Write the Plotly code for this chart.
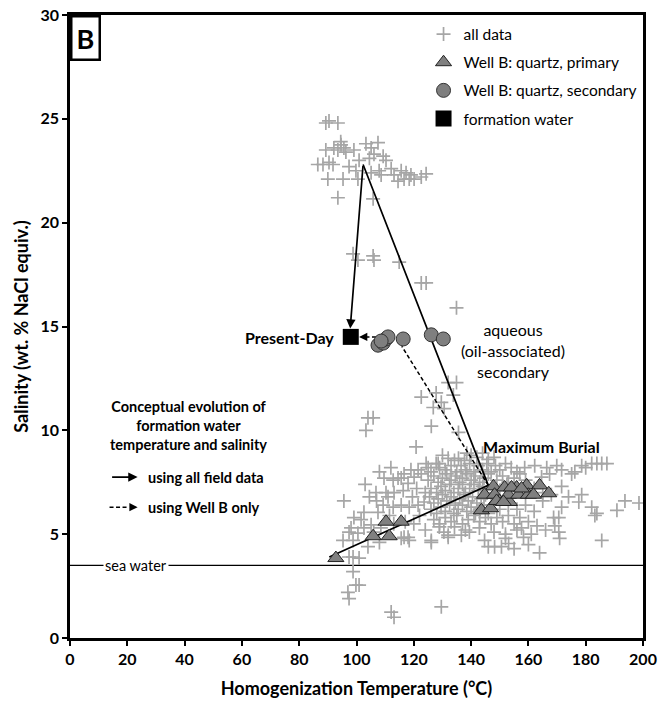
import plotly.graph_objects as go

# ---------------- data ----------------
# all field data (Th °C, salinity wt.% NaCl eq.)
all_T = [
    # high-salinity cluster
    89.3, 90.4, 93.5, 89.3, 92.1, 93.5, 94.6, 95.6, 96.3, 99.1, 103.3, 105.1, 107.5, 106.1, 109.3, 110.3,
    86.5, 88.3, 90.4, 91.8, 97.4, 99.8, 100.9, 90.0, 95.3, 100.5, 105.1, 107.9, 108.6, 112.1, 113.1, 115.6,
    117.3, 116.6, 118.4, 120.1, 122.6, 124.3, 93.5, 105.8, 94.5, 104.5, 114.5, 119.0,
    # mid scattered
    98.8, 100.5, 105.8, 106.1, 114.9, 122.6, 124.3, 134.9, 132.0, 134.9, 122.6, 127.8, 129.6, 126.8, 130.6,
    133.8, 104.0, 105.8, 103.3, 126.1, 135.6, 120.8,
    # low salinity
    97.4, 98.8, 100.9, 98.8, 99.8, 100.9, 97.0, 97.4, 112.1, 113.1, 129.6,
    # left part of main cluster
    95.6, 99.1, 101.6, 95.3, 97.4, 100.5, 98.1, 102.6, 98.8, 102.6, 105.1, 107.5, 109.3, 112.8, 115.6, 118.4,
    121.5, 123.6, 109.6, 112.8, 115.6, 106.8, 110.3, 113.1, 116.3, 118.0, 120.1, 122.6, 125.0, 114.5, 116.6,
    119.0, 121.5, 116.6, 118.4, 118.0, 115.6, 104.5, 107.0, 111.0, 111.5, 106.0, 108.5, 113.0, 117.0, 120.0,
    122.0, 124.0, 104.0, 108.0, 121.0, 124.0, 119.5, 108.0, 112.0, 103.0,
    # dense core
    128.5, 132.0, 134.2, 135.6, 137.7, 140.0, 142.0, 144.0, 138.5, 130.0, 146.0, 148.0, 127.8, 124.3,
    126.0, 129.0, 131.0, 133.0, 135.0, 136.5, 138.0, 139.5, 141.0, 142.5, 144.0, 145.5, 147.0, 148.5, 150.0,
    152.0, 154.0, 156.0,
    125.0, 127.0, 128.5, 130.0, 131.5, 133.0, 134.5, 136.0, 137.0, 138.5, 140.0, 141.5, 143.0, 144.5, 146.0,
    149.0, 151.0, 153.0, 155.0, 157.0, 159.0,
    126.0, 128.0, 129.5, 131.0, 132.5, 134.0, 135.5, 137.0, 138.0, 139.5, 141.0, 142.5, 144.0, 145.5, 150.0,
    152.5, 158.0, 162.0, 165.0,
    125.5, 127.0, 128.5, 130.0, 131.5, 133.0, 134.5, 136.0, 137.5, 139.0, 140.5, 142.0, 143.5, 145.0, 147.0,
    150.0, 153.0, 156.0, 159.0, 162.0,
    126.0, 128.0, 129.5, 131.0, 132.5, 134.0, 135.5, 137.0, 138.5, 140.0, 141.5, 143.0, 144.5, 146.0,
    127.0, 129.0, 131.0, 133.0, 135.0, 137.0, 139.0, 141.0, 143.0, 145.0, 147.0, 149.0, 151.0, 153.0, 155.0,
    157.0, 160.0, 163.0,
    126.1, 128.9, 132.0, 134.2, 136.6, 139.4, 142.9, 144.7, 146.0, 148.2, 150.6, 153.1, 130.5, 138.0, 148.0,
    152.0, 156.0, 126.1, 132.0,
    # right side
    158.7, 162.2, 166.4, 169.9, 171.6, 167.4, 164.6, 178.6, 180.0, 182.1, 183.9, 185.6, 187.4, 176.2, 175.1,
    193.7, 198.6, 190.9, 182.1, 183.2, 183.9, 185.6, 178.6, 177.6, 171.6, 171.6, 170.6, 169.2, 170.6, 170.9,
    168.8, 163.9, 158.3, 157.6, 160.0, 155.0, 165.0, 168.0, 174.0, 166.0, 161.0, 152.0,
]
all_S = [
    24.8, 24.9, 24.8, 23.5, 23.6, 23.5, 23.75, 23.6, 23.4, 23.5, 23.8, 23.6, 23.85, 23.3, 23.2, 23.0,
    22.8, 22.8, 22.9, 22.8, 22.7, 22.5, 23.0, 22.1, 22.1, 22.1, 22.4, 22.5, 22.3, 22.6, 22.3, 22.5,
    22.4, 22.1, 22.1, 22.1, 22.2, 22.35, 21.2, 21.15, 23.9, 23.1, 22.0, 22.3,
    18.5, 18.2, 18.4, 18.2, 18.1, 17.1, 17.1, 15.9, 12.3, 12.3, 11.6, 11.8, 11.35, 11.1, 11.05,
    11.7, 10.6, 10.6, 10.0, 10.2, 9.9, 9.2,
    3.9, 3.9, 3.85, 3.2, 2.55, 2.55, 2.2, 1.9, 1.25, 1.0, 1.5,
    6.6, 5.8, 5.7, 4.7, 5.1, 5.05, 5.3, 5.3, 4.7, 6.05, 5.45, 6.05, 6.4, 6.3, 6.4, 6.3,
    6.4, 6.55, 7.7, 7.6, 7.7, 7.0, 7.0, 7.0, 7.1, 7.45, 7.75, 7.9, 8.2, 7.7, 7.9,
    8.1, 8.1, 4.85, 4.7, 4.85, 4.8, 6.8, 6.6, 6.8, 5.9, 5.1, 5.3, 5.5, 5.6, 5.5,
    5.9, 5.2, 4.4, 4.6, 7.2, 7.0, 6.8, 8.0, 8.2, 7.4,
    8.4, 8.65, 8.55, 8.65, 8.55, 8.8, 8.7, 8.9, 8.9, 8.8, 8.6, 8.7, 8.4, 8.4,
    8.0, 8.2, 8.1, 8.3, 8.0, 8.3, 8.1, 8.4, 8.0, 8.3, 8.1, 8.4, 8.0, 8.3, 8.1,
    8.4, 8.2, 8.0,
    7.6, 7.8, 7.5, 7.7, 7.9, 7.6, 7.8, 7.5, 7.7, 7.9, 7.6, 7.8, 7.5, 7.7, 7.9,
    7.6, 7.8, 7.5, 7.7, 7.9, 7.6,
    7.2, 7.0, 7.3, 7.1, 7.4, 7.0, 7.2, 7.4, 7.0, 7.2, 7.4, 7.1, 7.3, 7.0, 7.1,
    7.4, 7.1, 7.2, 7.0,
    6.8, 6.5, 6.7, 6.9, 6.6, 6.8, 6.5, 6.7, 6.9, 6.6, 6.8, 6.5, 6.7, 6.9, 6.4,
    6.2, 6.4, 6.2, 6.4, 6.1,
    6.2, 6.0, 6.3, 6.1, 6.4, 6.0, 6.2, 6.4, 6.1, 6.3, 6.0, 6.2, 6.4, 6.0,
    5.7, 5.5, 5.8, 5.6, 5.9, 5.5, 5.7, 5.9, 5.6, 5.8, 5.5, 5.8, 5.6, 5.9, 5.5,
    5.8, 5.6, 5.4,
    4.7, 5.35, 4.85, 5.35, 4.95, 5.1, 5.3, 4.7, 4.4, 4.4, 4.4, 4.55, 5.1, 5.2, 5.1,
    5.0, 5.2, 4.6, 4.95,
    8.2, 8.3, 8.2, 8.3, 8.1, 7.9, 7.75, 8.3, 8.2, 8.4, 8.4, 8.4, 8.4, 8.0, 7.9,
    6.6, 6.5, 6.15, 6.3, 5.9, 6.0, 4.7, 6.9, 6.55, 7.3, 6.3, 5.8, 5.4, 5.1, 4.8,
    5.8, 4.1, 4.85, 5.3, 4.5, 4.3, 6.6, 6.9, 6.8, 5.2, 5.0, 4.8,
]

# Well B: quartz, primary inclusions
prim_T = [92.8, 105.8, 110.3, 115.6, 111.4, 143.6, 146.8, 147.8, 151.7, 155.9, 159.4, 163.9, 167.1,
          144.7, 148.2, 149.9, 153.4, 153.0, 156.6, 160.0, 161.8, 154.1, 157.6, 148.9, 151.3]
prim_S = [3.85, 4.9, 5.6, 5.6, 4.9, 6.15, 6.25, 7.3, 7.25, 7.25, 7.35, 7.35, 6.97,
          6.9, 6.9, 6.6, 6.55, 6.9, 6.9, 6.9, 6.9, 7.25, 7.2, 6.6, 6.55]

# Well B: quartz, secondary inclusions
sec_T = [107.5, 109.3, 110.3, 111.0, 108.6, 116.3, 126.1, 130.3]
sec_S = [14.1, 14.2, 14.4, 14.5, 14.3, 14.4, 14.6, 14.4]

# formation water (present day)
fw_T = [98.0]
fw_S = [14.5]

# conceptual evolution paths
path_all_T = [90.5, 146.0, 102.3]          # sea water -> max burial -> high-salinity apex
path_all_S = [3.9, 7.35, 22.8]
arrow_all = dict(tail=(102.3, 22.8), head=(97.8, 14.9))
path_wb_T = [146.0, 115.8]                 # max burial -> secondary inclusions (Well B)
path_wb_S = [7.35, 14.05]
path_wb2_T = [106.8, 101.5]                # secondary inclusions -> present day
path_wb2_S = [14.5, 14.5]
arrow_wb_head = (100.9, 14.5)

sea_water = 3.5

FONT = "Lato"
DASH = "4px,2.5px"

fig = go.Figure()

fig.add_trace(go.Scatter(
    x=all_T, y=all_S, mode="markers", name="all data", legendgroup="a",
    marker=dict(symbol="cross-thin", size=10, line=dict(color="#a6a6a6", width=1.7), color="#a6a6a6"),
))

# evolution lines
fig.add_trace(go.Scatter(x=path_all_T, y=path_all_S, mode="lines", showlegend=False,
                         line=dict(color="black", width=1.7)))
fig.add_trace(go.Scatter(x=path_wb_T, y=path_wb_S, mode="lines", showlegend=False,
                         line=dict(color="black", width=1.5, dash=DASH)))
fig.add_trace(go.Scatter(x=path_wb2_T, y=path_wb2_S, mode="lines", showlegend=False,
                         line=dict(color="black", width=1.5, dash=DASH)))

fig.add_trace(go.Scatter(
    x=prim_T, y=prim_S, mode="markers", name="Well B: quartz, primary", legendgroup="b",
    marker=dict(symbol="triangle-up", size=14, color="#808080", line=dict(color="#222", width=1)),
))
fig.add_trace(go.Scatter(
    x=sec_T, y=sec_S, mode="markers", name="Well B: quartz, secondary", legendgroup="c",
    marker=dict(symbol="circle", size=14, color="#7f7f7f", line=dict(color="#333", width=1)),
))
fig.add_trace(go.Scatter(
    x=fw_T, y=fw_S, mode="markers", name="formation water", legendgroup="d",
    marker=dict(symbol="square", size=16, color="black", line=dict(color="black", width=0)),
))

ann = []
# arrow apex -> present day
ann.append(dict(x=arrow_all["head"][0], y=arrow_all["head"][1], ax=arrow_all["tail"][0], ay=arrow_all["tail"][1],
                xref="x", yref="y", axref="x", ayref="y", showarrow=True, arrowhead=2, arrowsize=1.1,
                arrowwidth=1.7, arrowcolor="black", text=""))
# dashed arrow head (well B)
ann.append(dict(x=arrow_wb_head[0], y=arrow_wb_head[1], ax=path_wb2_T[1] + 0.8, ay=arrow_wb_head[1],
                xref="x", yref="y", axref="x", ayref="y", showarrow=True, arrowhead=2, arrowsize=1.1,
                arrowwidth=1.5, arrowcolor="black", text=""))

bold = dict(family=FONT, size=16, color="black", weight="bold")
ann.append(dict(x=93.0, y=14.45, xref="x", yref="y", text="Present-Day", showarrow=False,
                xanchor="right", yanchor="middle", font=bold))
ann.append(dict(x=154.5, y=13.85, xref="x", yref="y", text="aqueous<br>(oil-associated)<br>secondary",
                showarrow=False, xanchor="center", yanchor="middle",
                font=dict(family=FONT, size=16, color="black")))
ann.append(dict(x=164.6, y=9.2, xref="x", yref="y", text="Maximum Burial", showarrow=False,
                xanchor="center", yanchor="middle", font=bold))
small_bold = dict(family=FONT, size=14.5, color="black", weight="bold")
ann.append(dict(x=41.5, y=10.25, xref="x", yref="y",
                text="Conceptual evolution of<br>formation water<br>temperature and salinity",
                showarrow=False, xanchor="center", yanchor="middle", font=small_bold))
ann.append(dict(x=26.5, y=7.75, xref="x", yref="y", text="using all field data", showarrow=False,
                xanchor="left", yanchor="middle", font=small_bold))
ann.append(dict(x=26.5, y=6.3, xref="x", yref="y", text="using Well B only", showarrow=False,
                xanchor="left", yanchor="middle", font=small_bold))
# legend-arrows
ann.append(dict(x=23.6, y=7.75, xref="x", yref="y", ax=-27, ay=0, showarrow=True, arrowhead=2,
                arrowsize=1.1, arrowwidth=1.7, arrowcolor="black", text=""))
ann.append(dict(x=23.6, y=6.3, xref="x", yref="y", ax=-8, ay=0, showarrow=True, arrowhead=2,
                arrowsize=1.1, arrowwidth=1.5, arrowcolor="black", text=""))
ann.append(dict(x=23.1, y=sea_water, xref="x", yref="y", text="sea water", showarrow=False,
                xanchor="center", yanchor="middle", bgcolor="white", borderpad=1,
                font=dict(family=FONT, size=14.5, color="black")))
# panel label
ann.append(dict(x=0, y=1, xref="paper", yref="paper", text="B", showarrow=False, xanchor="left",
                yanchor="top", bgcolor="white", bordercolor="black", borderwidth=2.5, borderpad=4,
                font=dict(family=FONT, size=27, color="black", weight="bold")))

shapes = [
    dict(type="line", xref="paper", yref="y", x0=0, x1=1, y0=sea_water, y1=sea_water,
         line=dict(color="black", width=1.3), layer="below"),
    dict(type="line", xref="x", yref="y", x0=13.8, x1=20.5, y0=6.3, y1=6.3,
         line=dict(color="black", width=1.5, dash=DASH)),
]

fig.update_layout(
    width=661, height=706,
    margin=dict(l=70, r=18, t=15, b=68, autoexpand=False),
    paper_bgcolor="white", plot_bgcolor="white",
    annotations=ann, shapes=shapes,
    showlegend=True,
    legend=dict(x=0.617, y=0.996, xanchor="left", yanchor="top", bgcolor="rgba(0,0,0,0)",
                font=dict(family=FONT, size=15.5, color="black"), tracegroupgap=5,
                itemwidth=30),
    font=dict(family=FONT),
)
fig.update_xaxes(range=[0, 200], dtick=20, showgrid=False, zeroline=False, automargin=False,
                 showline=True, linecolor="black", linewidth=2.5, mirror=True,
                 ticks="outside", ticklen=5, tickwidth=2, tickcolor="black",
                 tickfont=dict(family=FONT, size=16, color="black", weight="bold"),
                 title=dict(text="Homogenization Temperature (°C)", standoff=16,
                            font=dict(family=FONT, size=18, color="black", weight="bold")))
fig.update_yaxes(range=[0, 30], dtick=5, showgrid=False, zeroline=False, automargin=False,
                 showline=True, linecolor="black", linewidth=2.5, mirror=True,
                 ticks="outside", ticklen=5, tickwidth=2, tickcolor="black",
                 tickfont=dict(family=FONT, size=16, color="black", weight="bold"),
                 title=dict(text="Salinity (wt. % NaCl equiv.)", standoff=8,
                            font=dict(family=FONT, size=18, color="black", weight="bold")))

fig.write_html("out.html", config={"displayModeBar": False},
               post_script="document.body.style.margin='0px';")
